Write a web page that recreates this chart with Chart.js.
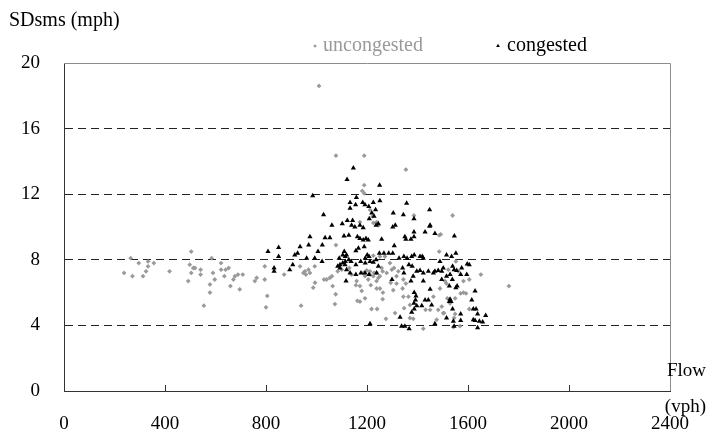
<!DOCTYPE html>
<html>
<head>
<meta charset="utf-8">
<script src="https://cdn.jsdelivr.net/npm/chart.js@4.4.1/dist/chart.umd.min.js"></script>
<style>
  html, body { margin: 0; padding: 0; background: #fff; }
</style>
</head>
<body>
<canvas id="sdChart" width="707" height="444"></canvas>
<script>
"use strict";

// flow (vph) and standard deviation of space-mean speed (mph), one pair per interval
const congestedFlow = [808, 850, 850, 832, 832, 894, 906, 914, 925, 935, 974, 969, 961, 1006, 1023, 1034, 1053, 1061, 1102, 1122,
  1022, 993, 1109, 1128, 1110, 1104, 1114, 1119, 1090, 1093, 1104, 1114, 1128, 1137, 1084, 1093, 1113, 1119, 1133, 1117,
  1143, 1139, 1172, 1162, 1172, 1185, 1196, 1205, 1189, 1166, 1156, 1201, 1208, 1193, 1156, 1175, 1193, 1212, 1156, 1176,
  1192, 1208, 1236, 1245, 1225, 1236, 1245, 1238, 1249, 1258, 1267, 1286, 1302, 1308, 1302, 1312, 1299, 1327, 1346, 1359,
  1377, 1387, 1350, 1354, 1374, 1386, 1386, 1430, 1450, 1469, 1366, 1379, 1397, 1410, 1423, 1443, 1341, 1346, 1374, 1383,
  1387, 1394, 1392, 1386, 1397, 1387, 1377, 1417, 1430, 1456, 1443, 1423, 1450, 1463, 1469, 1482, 1496, 1496, 1515, 1526,
  1526, 1331, 1337, 1350, 1367, 1212, 1410, 1419, 1423, 1469, 1146, 1121, 1250, 985, 1158, 1133, 1155, 1133, 1183, 1192,
  1207, 1225, 1251, 1234, 1219, 1228, 1209, 1028, 1152, 1185, 1304, 1344, 1357, 1386, 1448, 1448, 1546, 1515, 1535, 1552,
  1489, 1502, 1539, 1545, 1555, 1529, 1538, 1575, 1571, 1595, 1597, 1605, 1552, 1557, 1628, 1615, 1529, 1533, 1539, 1571,
  1571, 1515, 1542, 1545, 1621, 1632, 1638, 1621, 1628, 1645, 1658, 1670, 1638];
const congestedSD = [8.5, 8.75, 8.2, 7.5, 7.3, 7.4, 7.7, 8.3, 8.4, 8.8, 9.4, 8.9, 8.1, 8.5, 8.9, 9.35, 9.35, 10.1, 10.2, 10.4,
  7.9, 8.1, 9.45, 9.5, 8.5, 8.3, 8.2, 8.3, 8.1, 7.7, 7.8, 7.9, 8.0, 7.9, 7.6, 7.5, 7.7, 7.4, 7.2, 6.7,
  10.4, 10.1, 10.1, 9.4, 9.3, 9.2, 9.3, 9.2, 8.8, 8.7, 8.55, 8.3, 8.2, 8.1, 7.7, 7.9, 7.8, 7.9, 7.1, 7.2,
  7.2, 7.1, 10.1, 10.2, 7.85, 8.0, 7.6, 7.2, 8.4, 9.25, 8.4, 8.4, 8.4, 8.85, 10.0, 10.1, 6.8, 8.1, 8.2, 8.1,
  8.2, 8.3, 9.4, 9.25, 9.25, 9.7, 9.4, 9.7, 10.1, 9.6, 7.7, 7.6, 7.3, 7.35, 7.2, 7.3, 7.5, 7.2, 6.7, 7.0,
  6.0, 5.8, 5.55, 5.35, 5.2, 5.0, 4.8, 5.2, 5.55, 5.25, 5.55, 6.7, 6.2, 7.2, 7.3, 7.35, 7.3, 6.8, 7.0, 6.4,
  5.45, 4.5, 3.95, 3.95, 3.8, 4.1, 8.2, 8.2, 8.1, 4.1, 13.6, 12.9, 12.55, 11.9, 11.8, 11.5, 11.35, 11.15, 11.5, 11.35,
  11.25, 11.5, 11.6, 11.05, 10.85, 10.65, 10.5, 10.75, 10.0, 9.95, 10.85, 10.75, 11.45, 10.5, 11.05, 10.05, 9.45, 8.3, 8.2, 8.4,
  7.9, 7.5, 7.6, 7.4, 7.35, 7.1, 6.8, 7.5, 7.1, 7.1, 7.75, 7.7, 6.3, 6.4, 6.1, 5.55, 5.6, 5.45, 5.0, 4.7,
  4.3, 4.45, 4.25, 3.95, 5.0, 5.0, 4.7, 4.35, 4.3, 4.25, 4.2, 4.6, 3.85];

const uncongestedFlow = [264, 238, 271, 296, 313, 325, 333, 333, 356, 418, 504, 498, 512, 519, 504, 492, 541, 541, 554, 585,
  590, 597, 578, 578, 622, 622, 640, 652, 635, 659, 671, 677, 689, 708, 696, 756, 763, 795, 795, 805,
  800, 872, 935, 939, 948, 958, 974, 968, 954, 993, 987, 994, 1030, 1040, 1053, 1061, 1064, 1076, 1073, 1077,
  1084, 1100, 1130, 1139, 1159, 1179, 1172, 1156, 1162, 1172, 1192, 1185, 1199, 1192, 1212, 1225, 1228, 1238, 1212, 1238,
  1245, 1251, 1262, 1258, 1278, 1205, 1215, 1238, 1251, 1263, 1262, 1218, 1240, 1275, 1238, 1225, 1245, 1251, 1271, 1225,
  1304, 1341, 1344, 1364, 1311, 1347, 1370, 1370, 1383, 1423, 1432, 1450, 1463, 1486, 1486, 1482, 1502, 1476, 1291, 1298,
  1307, 1324, 1317, 1344, 1354, 1317, 1294, 1010, 1077, 1189, 1354, 1189, 1181, 1189, 1212, 1222, 1172, 1386, 1539, 1492,
  1552, 1522, 1562, 1582, 1605, 1509, 1515, 1582, 1571, 1592, 1549, 1518, 1529, 1605, 1505, 1545, 1549, 1568, 1542, 1496,
  1489, 1651, 1762];
const uncongestedSD = [8.1, 7.2, 7.0, 7.8, 7.0, 7.3, 7.6, 7.9, 7.8, 7.3, 8.5, 7.7, 7.5, 7.5, 7.2, 6.7, 7.4, 7.1, 5.2, 8.1,
  7.2, 6.8, 6.5, 6.0, 7.8, 7.4, 7.4, 7.5, 7.0, 6.4, 6.8, 7.0, 7.1, 7.1, 6.2, 6.7, 6.9, 7.6, 6.8, 5.8,
  5.1, 7.1, 7.6, 5.2, 7.2, 7.1, 7.2, 7.4, 7.3, 7.6, 6.3, 6.6, 6.8, 6.8, 6.9, 7.0, 6.4, 5.9, 5.3, 8.9,
  7.3, 7.4, 7.5, 7.1, 6.7, 6.1, 6.4, 6.45, 5.5, 5.45, 5.65, 7.2, 7.35, 7.0, 7.1, 7.0, 7.2, 7.2, 7.3, 6.7,
  6.9, 7.0, 7.3, 7.5, 7.2, 6.8, 6.45, 6.25, 6.25, 6.0, 5.6, 5.0, 5.0, 4.4, 10.3, 10.25, 10.1, 8.2, 8.2, 8.25,
  6.15, 6.25, 5.75, 5.75, 4.75, 5.05, 5.25, 4.45, 4.4, 3.8, 4.95, 4.95, 5.75, 9.5, 8.5, 4.95, 4.75, 4.35, 7.8, 7.4,
  7.5, 7.3, 7.0, 6.8, 6.55, 6.55, 6.6, 18.6, 14.35, 14.35, 13.5, 12.55, 12.2, 12.05, 11.05, 10.65, 10.3, 10.7, 10.7, 9.55,
  7.9, 7.4, 7.3, 6.7, 6.8, 6.7, 6.55, 6.0, 5.95, 5.95, 5.65, 5.65, 5.35, 5.0, 4.75, 4.45, 4.7, 3.95, 3.9, 5.15,
  6.25, 7.1, 6.4];

const flowTicks = [0, 400, 800, 1200, 1600, 2000, 2400];
const sdTicks = [0, 4, 8, 12, 16, 20];

const toPoints = (xs, ys) => xs.map((x, i) => ({ x: x, y: ys[i] }));

const serif = "'Liberation Serif', 'Times New Roman', serif";
Chart.defaults.font.family = serif;
Chart.defaults.font.size = 19;
Chart.defaults.color = "#000";

// box edges, inward ticks on the flow axis, axis titles and the legend
const decorations = {
  id: "decorations",
  afterDraw(chart) {
    const { ctx, chartArea: a, scales: { x } } = chart;
    ctx.save();
    ctx.lineWidth = 1;
    ctx.strokeStyle = "#8c8c8c";
    ctx.beginPath();
    ctx.moveTo(a.left, a.top + 0.5);
    ctx.lineTo(a.right + 0.5, a.top + 0.5);
    ctx.lineTo(a.right + 0.5, a.bottom);
    ctx.stroke();

    ctx.strokeStyle = "#333";
    ctx.beginPath();
    flowTicks.slice(1, -1).forEach(v => {
      const px = Math.round(x.getPixelForValue(v)) + 0.5;
      ctx.moveTo(px, a.bottom);
      ctx.lineTo(px, a.bottom - 6);
    });
    ctx.stroke();

    ctx.textBaseline = "middle";
    ctx.fillStyle = "#000";
    ctx.font = "20px " + serif;
    ctx.textAlign = "left";
    ctx.fillText("SDsms (mph)", 9, 21);
    ctx.font = "19px " + serif;
    ctx.textAlign = "right";
    ctx.fillText("Flow", 706, 371);
    ctx.fillText("(vph)", 706, 407);

    // legend
    ctx.textAlign = "left";
    ctx.font = "20px " + serif;
    const sets = chart.data.datasets;
    const unc = sets[1], con = sets[0];
    ctx.fillStyle = unc.backgroundColor;
    Chart.helpers.drawPoint(ctx, { pointStyle: unc.pointStyle, radius: 1.8, borderWidth: 0, rotation: 0 }, 315, 46);
    ctx.fillText("uncongested", 323, 46);
    ctx.fillStyle = con.backgroundColor;
    Chart.helpers.drawPoint(ctx, { pointStyle: con.pointStyle, radius: 2.2, borderWidth: 0, rotation: 0 }, 498, 46);
    ctx.fillStyle = "#000";
    ctx.fillText("congested", 507, 46);
    ctx.restore();
  }
};

new Chart(document.getElementById("sdChart"), {
  type: "scatter",
  data: {
    datasets: [{
      label: "congested",
      data: toPoints(congestedFlow, congestedSD),
      pointStyle: "triangle",
      radius: 3,
      backgroundColor: "#000",
      borderColor: "#000",
      borderWidth: 0
    }, {
      label: "uncongested",
      data: toPoints(uncongestedFlow, uncongestedSD),
      pointStyle: "rectRot",
      radius: 2.4,
      backgroundColor: "#9a9a9a",
      borderColor: "#9a9a9a",
      borderWidth: 0
    }]
  },
  options: {
    responsive: false,
    animation: false,
    layout: { padding: { left: 0, right: 37, top: 63, bottom: 0 } },
    plugins: { legend: { display: false }, tooltip: { enabled: false } },
    scales: {
      x: {
        type: "linear",
        min: 0,
        max: 2400,
        afterFit: s => { s.height = 53; },
        afterBuildTicks: s => { s.ticks = flowTicks.map(v => ({ value: v })); },
        ticks: { padding: 14, maxRotation: 0, callback: v => String(v) },
        grid: { display: false },
        border: { color: "#333", width: 1 }
      },
      y: {
        type: "linear",
        min: 0,
        max: 20,
        afterFit: s => { s.width = 64; },
        afterBuildTicks: s => { s.ticks = sdTicks.map(v => ({ value: v })); },
        ticks: { padding: 24, callback: v => String(v) },
        grid: {
          drawTicks: false,
          color: c => (c.tick && (c.tick.value === 0 || c.tick.value === 20)) ? "rgba(0,0,0,0)" : "#222"
        },
        border: { color: "#333", width: 1, dash: [8, 5] }
      }
    }
  },
  plugins: [decorations]
});
</script>
</body>
</html>
